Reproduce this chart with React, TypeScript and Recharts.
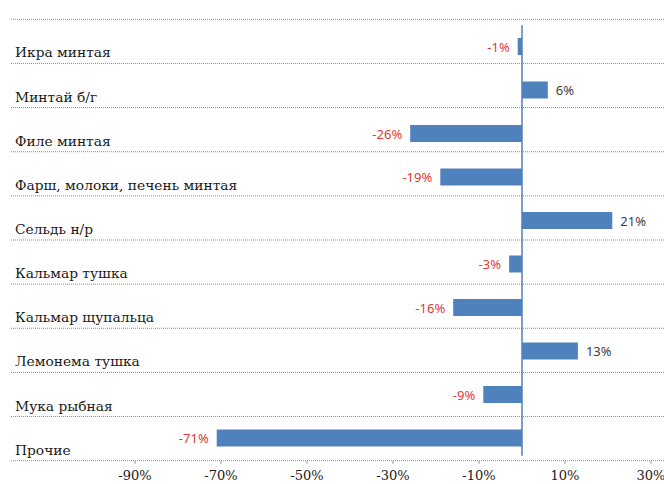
import { BarChart, Bar, XAxis, YAxis, CartesianGrid, ReferenceLine, LabelList } from "recharts";

const categories = [
  "Икра минтая",
  "Минтай б/г",
  "Филе минтая",
  "Фарш, молоки, печень минтая",
  "Сельдь н/р",
  "Кальмар тушка",
  "Кальмар щупальца",
  "Лемонема тушка",
  "Мука рыбная",
  "Прочие",
];
const changes = [-1, 6, -26, -19, 21, -3, -16, 13, -9, -71];
const xTicks = [-90, -70, -50, -30, -10, 10, 30];

const data = categories.map((name, i) => ({ name, value: changes[i] }));

const W = 664;
const H = 484;
const TOP = 19.3;
const BOTTOM = 23.3;
const ROW = (H - TOP - BOTTOM) / categories.length;
const GRID_X0 = 11;
const SERIF = "'DejaVu Serif', serif";
const SANS = "'Noto Sans', sans-serif";

const CategoryTick = (props: any) => {
  const { index, payload } = props;
  const y = TOP + (index + 1) * ROW - 6;
  return (
    <text x={15} y={y} fill="#1a1a1a" fontSize={13.8} fontFamily={SERIF} textAnchor="start">
      {payload.value}
    </text>
  );
};

const ValueLabel = (props: any) => {
  const { x, y, width, height, value } = props;
  const left = Math.min(x, x + width);
  const right = Math.max(x, x + width);
  const neg = value < 0;
  return (
    <text
      x={neg ? left - 8 : right + 8}
      y={y + height / 2}
      dominantBaseline="central"
      textAnchor={neg ? "end" : "start"}
      fill={neg ? "#E03A35" : "#404040"}
      fontSize={13}
      fontFamily={SANS}
    >
      {value}%
    </text>
  );
};

export default function App() {
  return (
    <div style={{ position: "absolute", left: 0, top: 0, width: W, height: H, background: "#fff" }}>
      <BarChart
        width={W}
        height={H}
        data={data}
        layout="vertical"
        margin={{ top: TOP, right: 13, bottom: 0, left: 10 }}
      >
        <CartesianGrid
          vertical={false}
          horizontalCoordinatesGenerator={({ offset }: any) =>
            Array.from({ length: categories.length + 1 }, (_, i) => offset.top + (i * offset.height) / categories.length)
          }
          horizontal={(p: any) => (
            <line
              key={p.key ?? `${p.y1}`}
              x1={GRID_X0}
              x2={W}
              y1={p.y1}
              y2={p.y2}
              stroke="#8c8c8c"
              strokeDasharray="1 1"
              strokeWidth={1}
            />
          )}
        />
        <XAxis
          type="number"
          domain={[-90, 30]}
          ticks={xTicks}
          height={BOTTOM}
          axisLine={false}
          tickLine={{ stroke: "#8c8c8c" }}
          tickSize={3}
          tickMargin={7}
          tickFormatter={(v) => `${v}%`}
          tick={{ fill: "#1a1a1a", fontSize: 13, fontFamily: SERIF }}
          interval={0}
        />
        <YAxis
          type="category"
          dataKey="name"
          width={125}
          padding={{ top: 5.7, bottom: 0.7 }}
          axisLine={false}
          tickLine={false}
          tick={<CategoryTick />}
          interval={0}
        />
        <Bar dataKey="value" fill="#4F81BD" barSize={17} isAnimationActive={false}>
          <LabelList dataKey="value" content={<ValueLabel />} />
        </Bar>
        <ReferenceLine
          x={0}
          stroke="#4F81BD"
          strokeWidth={1.5}
          shape={(p: any) => (
            <line x1={p.x1} x2={p.x2} y1={p.y1 - 5} y2={p.y2 + 6} stroke="#4F81BD" strokeWidth={1.5} />
          )}
        />
      </BarChart>
    </div>
  );
}
